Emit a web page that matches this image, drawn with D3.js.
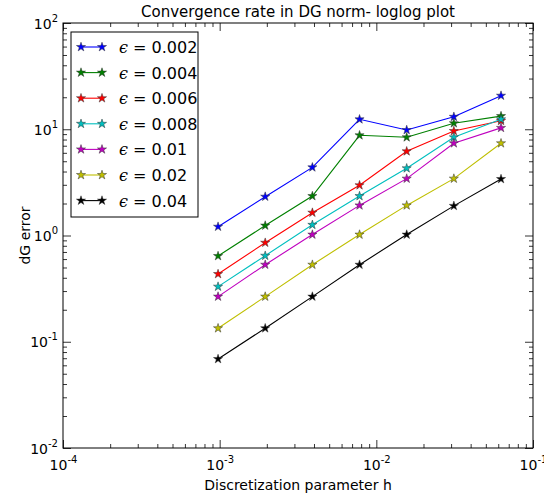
<!DOCTYPE html>
<html>
<head>
<meta charset="utf-8">
<script src="https://cdn.jsdelivr.net/npm/d3@7"></script>
<style>
  body { margin: 0; background: #fff; }
  text { font-family: "DejaVu Sans", sans-serif; }
</style>
</head>
<body>
<svg id="chart" width="544" height="497"></svg>
<script>
// h values (1/1024 ... 1/16)
const hValues = [1/1024, 1/512, 1/256, 1/128, 1/64, 1/32, 1/16];
const epsLabels = ['0.002', '0.004', '0.006', '0.008', '0.01', '0.02', '0.04'];
const seriesColors = ['#0000ff', '#008000', '#ff0000', '#00bfbf', '#bf00bf', '#bfbf00', '#000000'];

const err002 = [1.21, 2.32, 4.38, 12.4, 9.84, 13.1, 20.7];
const err004 = [0.641, 1.24, 2.35, 8.77, 8.40, 11.4, 13.3];
const err006 = [0.434, 0.855, 1.64, 2.97, 6.20, 9.63, 12.0];
const err008 = [0.330, 0.645, 1.26, 2.35, 4.29, 8.40, 12.4];
const err01 = [0.266, 0.531, 1.02, 1.92, 3.43, 7.38, 10.3];
const err02 = [0.134, 0.266, 0.531, 1.02, 1.92, 3.43, 7.38];
const err04 = [0.0688, 0.134, 0.266, 0.531, 1.02, 1.90, 3.40];
const allErrors = [err002, err004, err006, err008, err01, err02, err04];

const xMajor = [1e-4, 1e-3, 1e-2, 1e-1];
const yMajor = [1e-2, 1e-1, 1e0, 1e1, 1e2];

const svg = d3.select('#chart');
const margin = { top: 23, right: 11, bottom: 49, left: 63 },
  width = 544 - margin.left - margin.right,
  height = 497 - margin.top - margin.bottom;

const x = d3.scaleLog().domain([1e-4, 1e-1]).range([0, width]);
const y = d3.scaleLog().domain([1e-2, 1e2]).range([height, 0]);

const g = svg.append('g').attr('transform', `translate(${margin.left},${margin.top})`);

// minor ticks
const minor = (dom) => {
  const out = [];
  for (let e = Math.log10(dom[0]); e < Math.log10(dom[1]); e++)
    for (let k = 2; k <= 9; k++) out.push(k * Math.pow(10, e));
  return out;
};
const xMinor = minor(x.domain());
const yMinor = minor(y.domain());

const exp = v => Math.round(Math.log10(v));

function drawAxis(axis, transform, cls) {
  const a = g.append('g').attr('class', cls).attr('transform', transform).call(axis);
  a.select('.domain').remove();
  a.selectAll('line').attr('stroke', '#000').attr('stroke-width', 0.8);
  return a;
}

// ticks on all four sides, pointing inward
drawAxis(d3.axisBottom(x).tickValues(xMinor).tickSize(-4).tickFormat(''), `translate(0,${height})`, 'minor');
drawAxis(d3.axisTop(x).tickValues(xMinor).tickSize(-4).tickFormat(''), 'translate(0,0)', 'minor');
drawAxis(d3.axisLeft(y).tickValues(yMinor).tickSize(-4).tickFormat(''), 'translate(0,0)', 'minor');
drawAxis(d3.axisRight(y).tickValues(yMinor).tickSize(-4).tickFormat(''), `translate(${width},0)`, 'minor');
drawAxis(d3.axisTop(x).tickValues(xMajor).tickSize(-8).tickFormat(''), 'translate(0,0)', 'major');
drawAxis(d3.axisRight(y).tickValues(yMajor).tickSize(-8).tickFormat(''), `translate(${width},0)`, 'major');

const xa = drawAxis(d3.axisBottom(x).tickValues(xMajor).tickSize(-8).tickFormat(''), `translate(0,${height})`, 'major');
xa.selectAll('.tick').append('text')
  .attr('y', 22).attr('text-anchor', 'middle').attr('fill', '#000').attr('font-size', 14)
  .each(function(d) {
    const t = d3.select(this);
    t.append('tspan').text('10');
    t.append('tspan').attr('dy', -7).attr('font-size', 10).text(exp(d));
  });

const ya = drawAxis(d3.axisLeft(y).tickValues(yMajor).tickSize(-8).tickFormat(''), 'translate(0,0)', 'major');
ya.selectAll('.tick').append('text')
  .attr('x', -5).attr('y', 5).attr('text-anchor', 'end').attr('fill', '#000').attr('font-size', 14)
  .each(function(d) {
    const t = d3.select(this);
    t.append('tspan').text('10');
    t.append('tspan').attr('dy', -7).attr('font-size', 10).text(exp(d));
  });

// frame
g.append('rect').attr('width', width).attr('height', height)
  .attr('fill', 'none').attr('stroke', '#000').attr('stroke-width', 1);

// series
const line = d3.line().x((d, i) => x(hValues[i])).y(d => y(d));
const star = d3.symbol().type(d3.symbolStar).size(26);

allErrors.forEach((vals, s) => {
  g.append('path').datum(vals)
    .attr('d', line)
    .attr('fill', 'none').attr('stroke', seriesColors[s]).attr('stroke-width', 1.1);
  g.selectAll(null).data(vals).enter().append('path')
    .attr('d', star)
    .attr('transform', (d, i) => `translate(${x(hValues[i])},${y(d)})`)
    .attr('fill', seriesColors[s]).attr('stroke', '#333').attr('stroke-width', 0.5);
});

// legend
const lg = svg.append('g').attr('transform', 'translate(71,32)');
lg.append('rect').attr('width', 127).attr('height', 185)
  .attr('fill', '#fff').attr('stroke', '#000').attr('stroke-width', 1);
epsLabels.forEach((lab, i) => {
  const yy = 15 + i * 25.6;
  lg.append('line').attr('x1', 10).attr('x2', 31).attr('y1', yy).attr('y2', yy)
    .attr('stroke', seriesColors[i]).attr('stroke-width', 1.1);
  [10, 31].forEach(xx => lg.append('path').attr('d', star)
    .attr('transform', `translate(${xx},${yy})`)
    .attr('fill', seriesColors[i]).attr('stroke', '#333').attr('stroke-width', 0.5));
  const t = lg.append('text').attr('x', 48).attr('y', yy + 6).attr('font-size', 16).attr('fill', '#000');
  t.append('tspan').attr('font-family', 'DejaVu Serif').attr('font-style', 'italic').text('\u03f5');
  t.append('tspan').text(' = ' + lab);
});

// title and labels
svg.append('text').attr('x', margin.left + width / 2).attr('y', 17)
  .attr('text-anchor', 'middle').attr('font-size', 15).text('Convergence rate in DG norm- loglog plot');
svg.append('text').attr('x', margin.left + width / 2).attr('y', 490)
  .attr('text-anchor', 'middle').attr('font-size', 14).text('Discretization parameter h');
svg.append('text').attr('transform', `translate(30,${margin.top + height / 2}) rotate(-90)`)
  .attr('text-anchor', 'middle').attr('font-size', 14).text('dG error');
</script>
</body>
</html>
